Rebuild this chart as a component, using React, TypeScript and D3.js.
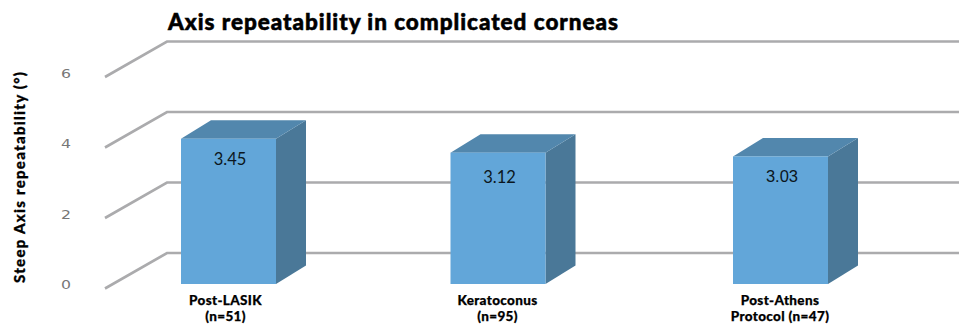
import React from "react";
import * as d3 from "d3";

const categories = ["Post-LASIK", "Keratoconus", "Post-Athens Protocol"];
const categoryLines = [["Post-LASIK", "(n=51)"], ["Keratoconus", "(n=95)"], ["Post-Athens", "Protocol (n=47)"]];
const repeatability = [3.45, 3.12, 3.03];
const valueLabels = ["3.45", "3.12", "3.03"];
const yTicks = [0, 2, 4, 6];

const W = 959;
const H = 324;
// oblique projection of the 3D chart: walls recede up and to the right
const wallDepth = { dx: 62, dy: -35.5 };
const barDepth = { dx: 30, dy: -18.5 };
const wallFrontX = 105;

const wallY = d3.scaleLinear().domain([0, 6]).range([288.5, 77]);
const barY = d3.scaleLinear().domain([0, 6]).range([284, 31.4]);
const barX = d3.scaleOrdinal<string, number>().domain(categories).range([181, 450.5, 733]);
const barWidth = 95;
const valueCenter = d3.scaleOrdinal<string, number>().domain(categories).range([230, 499.5, 782]);
const valueDrop = d3.scaleOrdinal<string, number>().domain(categories).range([26.5, 30, 25.5]);
const labelCenter = d3.scaleOrdinal<string, number>().domain(categories).range([225.5, 497.5, 780]);

const sans = "'Lato', 'Open Sans', sans-serif";

export default function App() {
  return (
    <svg
      width={W}
      height={H}
      viewBox={`0 0 ${W} ${H}`}
      style={{ position: "absolute", left: 0, top: 0, background: "#fff" }}
    >
      <text x={168} y={30} fontFamily={sans} fontWeight={900} fontSize={22.5} textLength={450} lengthAdjust="spacing" fill="#000" stroke="#000" strokeWidth={0.55}>
        Axis repeatability in complicated corneas
      </text>

      {yTicks.map((t) => {
        const y = wallY(t);
        return (
          <g key={t}>
            <path
              d={d3.line()([
                [wallFrontX, y],
                [wallFrontX + wallDepth.dx, y + wallDepth.dy],
                [W, y + wallDepth.dy],
              ])!}
              fill="none"
              stroke="#ababad"
              strokeWidth={2.6}
            />
            <text x={66} y={y + 0.5} textAnchor="middle" fontFamily="'DejaVu Sans', sans-serif" fontSize={13} textLength={10} lengthAdjust="spacingAndGlyphs" fill="#777">
              {t}
            </text>
          </g>
        );
      })}

      <text
        transform="translate(25,177.5) rotate(-90)"
        textAnchor="middle"
        fontFamily={sans}
        fontWeight={900}
        fontSize={15}
        textLength={211}
        lengthAdjust="spacing"
        fill="#000"
        stroke="#000"
        strokeWidth={0.3}
      >
        Steep Axis repeatability (°)
      </text>

      {categories.map((c, i) => {
        const x0 = barX(c);
        const x1 = x0 + barWidth;
        const y0 = barY(0);
        const y1 = barY(repeatability[i]);
        const { dx, dy } = barDepth;
        const poly = (pts: [number, number][]) => pts.map((p) => p.join(",")).join(" ");
        return (
          <g key={c}>
            <polygon points={poly([[x1, y1], [x1 + dx, y1 + dy], [x1 + dx, y0 + dy], [x1, y0]])} fill="#4a7898" />
            <polygon points={poly([[x0, y1], [x0 + dx, y1 + dy], [x1 + dx, y1 + dy], [x1, y1]])} fill="#5287ad" />
            <rect x={x0} y={y1} width={barWidth} height={y0 - y1} fill="#62a6d9" />
            <text
              x={valueCenter(c)}
              y={y1 + valueDrop(c)}
              textAnchor="middle"
              fontFamily={i === 2 ? "'Liberation Sans', sans-serif" : sans}
              fontSize={16.5}
              fill="#0b1620"
            >
              {valueLabels[i]}
            </text>
            {categoryLines[i].map((line, k) => (
              <text
                key={line}
                x={labelCenter(c)}
                y={305 + k * 16}
                textAnchor="middle"
                fontFamily={sans}
                fontWeight={900}
                fontSize={13.5}
                letterSpacing={0.35}
                fill="#000"
                stroke="#000"
                strokeWidth={0.25}
              >
                {line}
              </text>
            ))}
          </g>
        );
      })}
    </svg>
  );
}
